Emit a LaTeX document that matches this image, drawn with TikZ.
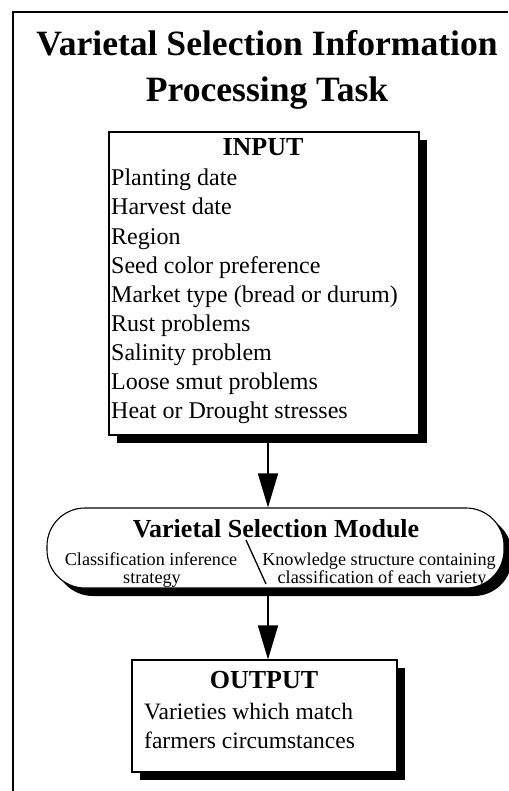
\documentclass[tikz,border=0pt]{standalone}
\usepackage{fontspec}
\setmainfont{Liberation Serif}
\usetikzlibrary{arrows.meta,shadows}
\begin{document}
\begin{tikzpicture}[x=1pt,y=-1pt,
  boxshape/.style={draw=black,line width=1.1pt,fill=white,inner sep=0pt,
    drop shadow={shadow xshift=8pt,shadow yshift=-8pt,opacity=1,fill=black}},
  head/.style={font=\bfseries\fontsize{26}{30}\selectfont,inner sep=0pt,anchor=base},
  item/.style={font=\fontsize{24}{28}\selectfont,inner sep=0pt,anchor=base west},
  outitem/.style={font=\fontsize{23.5}{28}\selectfont,inner sep=0pt,anchor=base west},
  small/.style={font=\fontsize{18.2}{20}\selectfont,inner sep=0pt,anchor=base},
  arr/.style={line width=1.6pt,-{Triangle[length=34pt,width=20pt]}}]
\useasboundingbox (0,0) rectangle (508,791);
% frame
\coordinate (fbl) at (13,791);
\coordinate (ftl) at (13,12);
\coordinate (ftr) at (508,12);
\draw[line width=1.3pt] (fbl) -- (ftl) -- (ftr);
% title
\node[font=\bfseries\fontsize{35.6}{44}\selectfont,inner sep=0pt,anchor=base] (t1) at (267,56) {Varietal Selection Information};
\node[font=\bfseries\fontsize{35.6}{44}\selectfont,inner sep=0pt,anchor=base] (t2) at (267,102) {Processing Task};
% input box
\node[boxshape,minimum width=310pt,minimum height=303pt] (input) at (264,283.5) {};
\node[head] (inhead) at (263,156) {INPUT};
\node[item] (i1) at (111,186) {Planting date};
\node[item] (i2) at (111,215) {Harvest date};
\node[item] (i3) at (111,244) {Region};
\node[item] (i4) at (111,273) {Seed color preference};
\node[item] (i5) at (111,302) {Market type (bread or durum)};
\node[item] (i6) at (111,331) {Rust problems};
\node[item] (i7) at (111,360) {Salinity problem};
\node[item] (i8) at (111,389) {Loose smut problems};
\node[item] (i9) at (111,418) {Heat or Drought stresses};
% module
\node[boxshape,rounded corners=38pt,minimum width=457pt,minimum height=80pt,
  drop shadow={shadow xshift=7pt,shadow yshift=-7pt,opacity=1,fill=black}] (module) at (275.5,548) {};
\node[head] (modhead) at (276,537) {Varietal Selection Module};
\node[small] (ml1) at (151,565) {Classification inference};
\node[small] (ml2) at (152,583) {strategy};
\node[small] (mr1) at (379,565) {Knowledge structure containing};
\node[small] (mr2) at (382,583) {classification of each variety};
\coordinate (sl1) at (246,540);
\coordinate (sl2) at (266,584);
\draw[line width=1.3pt] (sl1) -- (sl2);
% output box
\node[boxshape,minimum width=265pt,minimum height=112pt] (output) at (264.5,716) {};
\node[head] (outhead) at (264,688) {OUTPUT};
\node[outitem] (o1) at (144,719) {Varieties which match};
\node[outitem] (o2) at (144,748) {farmers circumstances};
% arrows
\coordinate (ax) at (268,0);
\draw[arr] (input.south -| ax) -- (module.north -| ax);
\draw[arr] (module.south -| ax) -- (output.north -| ax);
\end{tikzpicture}
\end{document}
